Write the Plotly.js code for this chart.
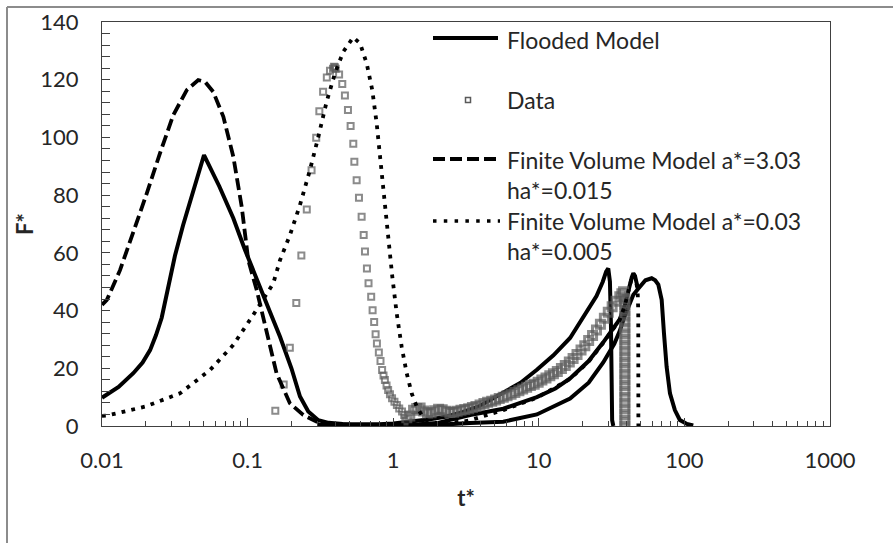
<!DOCTYPE html>
<html>
<head>
<meta charset="utf-8">
<script src="https://cdn.plot.ly/plotly-3.0.1.min.js"></script>
<style>html,body{margin:0;padding:0;background:#fff;}#chart{width:893px;height:543px;}</style>
</head>
<body>
<div id="chart"></div>
<script>
// ---- Flooded model (solid) : left pulse + first right curve ----
const tFlood = [0.0100,0.0130,0.0164,0.0190,0.0214,0.0235,0.0257,0.0285,0.0317,0.0360,0.0400,0.0450,0.0502,0.0640,0.0798,0.0960,0.1155,0.1400,0.1670,0.2000,0.2290,0.2610,0.3060,0.3600,0.4500,0.6000,0.8000,1.000,1.370,1.790,2.330,3.000,3.950,5.700,7.500,9.700,12.60,16.40,20.20,24.90,27.50,29.00,30.00,30.80,31.30,31.60,31.90,32.50];
const fFlood = [9.8,13.5,18.3,22,26.3,31.5,37.5,48,59,69.5,77.5,86,93.9,83,72,61,50.6,40.5,30.9,20,10.2,5,2,1.1,0.7,0.5,0.6,0.9,1.5,2.3,3.3,4.8,7,11.5,15,19.5,24.5,30.5,37.5,45,50,53.5,54.6,50,35,15,2,0];
// second and third solid curves
const tFloodB = [0.30,0.60,1.00,1.50,2.00,3.37,5.70,9.70,13.0,16.4,22.0,27.7,33.0,36.0,39.0,41.5,43.5,44.6,45.8,47.0,48.0];
const fFloodB = [0.4,0.2,0.3,0.6,1.0,3.8,6.0,10.0,13.0,16.5,22.5,29.0,34.5,37.0,42.0,48.0,51.5,52.9,52.0,49.5,47.5];
const tFloodC = [0.30,1.00,2.00,3.37,5.70,9.70,16.4,22.0,27.7,33.0,36.0,38.5,41.5,44.6,48.0,54.0,59.6,63.0,66.2,69.8,72.4,75.5,79.6,86.0,93.0,104,115];
const fFloodC = [0.2,0.2,0.4,1.0,1.5,4.0,9.5,15.0,22.0,28.5,33.0,37.5,42.0,45.5,47.5,50.5,51.2,50.5,49.0,43.7,32.1,20.5,11.3,5.5,2.1,0.7,0.2];

// ---- Data (open squares) ----
const tData = [0.155,0.177,0.195,0.216,0.234,0.255,0.275,0.296,0.311,0.330,0.350,0.368,0.386,0.392,0.398,0.403,0.425,0.447,0.466,0.489,0.510,0.532,0.541,0.561,0.582,0.607,0.627,0.640,0.660,0.677,0.706,0.722,0.740,0.757,0.773,0.797,0.818,0.839,0.858,0.877,0.900,0.923,0.950,0.982,1.02,1.06,1.10,1.15,1.19,
  1.24,1.30,1.38,1.45,1.53,1.62,1.72,1.82,1.93,2.05,2.17,2.30,2.45,2.60,2.75,2.92,3.10,3.30,3.50,3.70,3.95,4.20,4.45,4.75,5.05,5.35,5.70,6.05,6.45,6.85,7.30,7.75,8.25,8.75,9.30,9.90,10.5,11.2,11.9,12.6,13.4,14.3,15.2,16.2,17.2,18.3,19.5,20.7,22.0,23.4,24.9,26.5,28.2,30.0,31.9,33.9,36.0,37.2,38.2,
  39,39,39,39,39,39,39,39,39,39,39,39,39,39,39,39,39,39,39,39,39,39,39];
const fData = [5.3,14.4,27.1,42.6,59.1,75,88.6,99.9,109.1,115.8,120.8,123.1,123.8,124.5,124.3,123.8,121.8,118.5,114.5,109.5,104,97.8,91.6,85.2,79.1,72.5,66.2,60.5,54.6,49.5,44.8,40.1,36,31.8,28.6,25.5,22.5,19.4,17.5,15.9,14,12.5,11,9.6,8.4,7.3,6.1,5,3.8,
  2.1,3.5,5.5,6.1,6.2,5.2,4.5,4.6,5.3,5.8,5.6,5.1,4.7,4.8,5.1,5.5,5.7,6.0,6.4,6.8,7.3,7.8,8.2,8.6,9.0,9.5,10,10.5,11,11.6,12.2,12.8,13.4,14.0,14.5,15.2,15.9,16.6,17.4,18.1,18.9,19.9,21,22.2,23.4,24.8,26.3,27.8,29.6,31.4,33.3,35.3,37.3,39.4,41.3,43.2,44.8,45.8,46.5,
  44,42,40,38,36,34,32,30,28,26,24,22,20,18,16,14,12,10,8,6,4,2,0];

// ---- Finite Volume Model a*=3.03 ha*=0.015 (dashed) ----
const tFV1 = [0.0100,0.0108,0.0133,0.0164,0.0203,0.0250,0.0309,0.0382,0.0458,0.0510,0.0581,0.0681,0.0798,0.0911,0.1010,0.1155,0.1350,0.1580,0.1950,0.2410,0.2980,0.4000,0.6000,1.0000,1.5000];
const fFV1 = [42,43.7,54,66.8,80.6,94.5,107.8,116.4,119.9,119.3,115.8,107.2,93.3,76,57.5,47.1,32.1,18.3,7.9,3.8,1.5,0.6,0.3,0.3,0.3];

// ---- Finite Volume Model a*=0.03 ha*=0.005 (dotted) ----
const tFV2 = [0.0100,0.0108,0.0197,0.0343,0.0552,0.0798,0.1094,0.150,0.167,0.1955,0.229,0.268,0.306,0.349,0.398,0.454,0.532,0.592,0.658,0.718,0.770,0.821,0.865,0.925,0.986,1.057,1.143,1.238,1.34,1.45,1.57,1.70,2.0,3.0,3.37,5.7,9.7,16.4,22,27.7,33,36,39,41.5,43.5,44.6,45.8,47.0,47.8,48.2,48.3,48.3];
const fFV2 = [3.5,3.6,6.7,11.3,19.4,28.1,38.5,49.4,57.5,66.2,76.6,88.7,100.2,112.4,122.2,129.7,134.7,132.6,125.6,116.4,104.9,91,79.5,64.4,51.7,39,27.5,18.3,11.3,6.7,3.8,2,1.0,1.5,2,5.5,9.8,16.3,22.3,28.8,34.3,36.8,41.8,47.8,51.3,52.7,51.8,49,46,40,20,0];

// ---- axis labels ----
const xTickVals = [0.01,0.1,1,10,100,1000];
const xTickText = ['0.01','0.1','1','10','100','1000'];
const legendNames = ['Flooded Model','Data','Finite Volume Model a*=3.03','ha*=0.015','Finite Volume Model a*=0.03','ha*=0.005'];

// ---- geometry helpers (pixels -> paper) ----
const W = 893, H = 543, L = 102, R = 830, T = 22, B = 426;
const px = x => (x - L) / (R - L);
const py = y => (B - y) / (B - T);

const minorVals = [];
for (let e = -2; e < 3; e++) for (let k = 2; k <= 9; k++) minorVals.push(k * Math.pow(10, e));

const FONT = 'Lato, "Open Sans", sans-serif';
const TXT = '#262626';
const AX = '#404040';

const solid = {color: '#000', width: 4};
const traces = [
  {x: tFlood, y: fFlood, mode: 'lines', line: solid, name: legendNames[0]},
  {x: tFloodB, y: fFloodB, mode: 'lines', line: solid, name: legendNames[0]},
  {x: tFloodC, y: fFloodC, mode: 'lines', line: solid, name: legendNames[0]},
  {x: tData, y: fData, mode: 'markers', name: legendNames[1],
   marker: {symbol: 'square-open', size: tData.map(t => t > 1.2 ? 8 : 6), color: '#5a5a5a',
            line: {width: tData.map(t => t > 1.2 ? 3 : 2), color: '#5a5a5a'}}},
  {x: tFV1, y: fFV1, mode: 'lines', name: legendNames[2], line: {color: '#000', width: 3.8, dash: '12px,5px'}},
  {x: tFV2, y: fFV2, mode: 'lines', name: legendNames[4], line: {color: '#000', width: 3.8, dash: '3.8px,6.2px'}}
];

const shapes = [
  // outer chart border (top & left visible)
  {type: 'line', xref: 'paper', yref: 'paper', x0: px(7), x1: px(900), y0: py(7), y1: py(7), line: {color: '#8c8c8c', width: 2}},
  {type: 'line', xref: 'paper', yref: 'paper', x0: px(7), x1: px(7), y0: py(7), y1: py(550), line: {color: '#8c8c8c', width: 2}},
  // legend samples
  {type: 'line', xref: 'paper', yref: 'paper', x0: px(433), x1: px(498), y0: py(38), y1: py(38), line: {color: '#000', width: 4}},
  {type: 'rect', xref: 'paper', yref: 'paper', x0: px(465.5), x1: px(470.5), y0: py(102.5), y1: py(97.5), line: {color: '#5a5a5a', width: 1.5}},
  {type: 'line', xref: 'paper', yref: 'paper', x0: px(433), x1: px(498), y0: py(159), y1: py(159), line: {color: '#000', width: 4, dash: '12px,5px'}},
  {type: 'line', xref: 'paper', yref: 'paper', x0: px(433), x1: px(500), y0: py(221), y1: py(221), line: {color: '#000', width: 3.5, dash: '3.5px,7.3px'}}
];

const legY = [40, 100, 160, 190, 221, 251];
const annotations = legendNames.map((s, i) => ({
  text: s, xref: 'paper', yref: 'paper', x: px(505), y: py(legY[i]),
  xanchor: 'left', yanchor: 'middle', showarrow: false,
  font: {family: FONT, size: 23, color: TXT}
}));

const layout = {
  width: W, height: H,
  margin: {l: L, r: W - R, t: T, b: H - B},
  paper_bgcolor: '#fff', plot_bgcolor: '#fff',
  showlegend: false,
  font: {family: FONT, size: 22, color: TXT},
  xaxis: {
    type: 'log', range: [-2, 3], tickvals: xTickVals, ticktext: xTickText,
    ticks: 'inside', ticklen: 8, tickwidth: 1, tickcolor: AX,
    minor: {tickvals: minorVals, ticks: 'inside', ticklen: 5, tickwidth: 1, tickcolor: AX, showgrid: false},
    showline: true, linecolor: AX, linewidth: 1, mirror: true,
    showgrid: false, zeroline: false,
    tickfont: {family: FONT, size: 22, color: TXT},
    ticklabelstandoff: 15,
    title: {text: 't*', font: {family: FONT, size: 22, color: TXT, weight: 'bold'}, standoff: 18}
  },
  yaxis: {
    range: [0, 140], dtick: 20, tick0: 0,
    ticks: 'inside', ticklen: 8, tickwidth: 1, tickcolor: AX,
    minor: {dtick: 4, ticks: 'inside', ticklen: 8, tickwidth: 1, tickcolor: AX, showgrid: false},
    showline: true, linecolor: AX, linewidth: 1, mirror: true,
    showgrid: false, zeroline: false,
    tickfont: {family: FONT, size: 22, color: TXT},
    ticklabelstandoff: 18,
    title: {text: 'F*', font: {family: FONT, size: 22, color: TXT, weight: 'bold'}, standoff: 0}
  },
  shapes: shapes,
  annotations: annotations
};

Plotly.newPlot('chart', traces, layout, {staticPlot: true, displayModeBar: false});
</script>
</body>
</html>
